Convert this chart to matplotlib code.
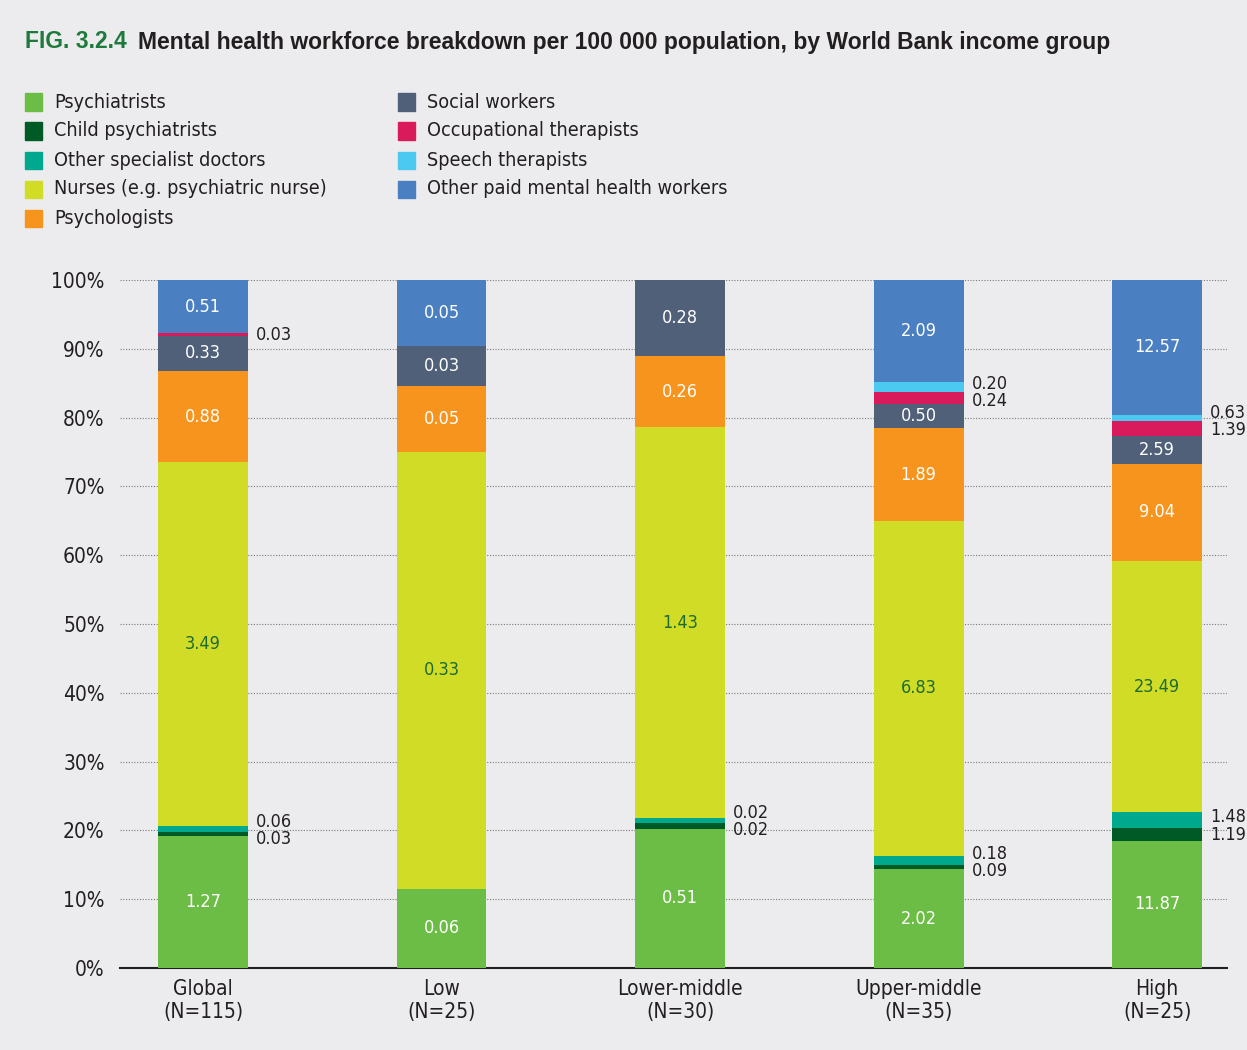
import matplotlib
matplotlib.use('Agg')
import matplotlib.pyplot as plt
from matplotlib.patches import Rectangle
from matplotlib.font_manager import FontProperties

plt.rcParams['font.family'] = ['DejaVu Sans']
plt.rcParams['font.stretch'] = 'condensed'

groups = ['Global\n(N=115)', 'Low\n(N=25)', 'Lower-middle\n(N=30)', 'Upper-middle\n(N=35)', 'High\n(N=25)']
series = ['Psychiatrists', 'Child psychiatrists', 'Other specialist doctors',
          'Nurses (e.g. psychiatric nurse)', 'Psychologists', 'Social workers',
          'Occupational therapists', 'Speech therapists', 'Other paid mental health workers']
psychiatrists = [1.27, 0.06, 0.51, 2.02, 11.87]
child_psych = [0.03, 0, 0.02, 0.09, 1.19]
other_spec = [0.06, 0, 0.02, 0.18, 1.48]
nurses = [3.49, 0.33, 1.43, 6.83, 23.49]
psychologists = [0.88, 0.05, 0.26, 1.89, 9.04]
social = [0.33, 0.03, 0.28, 0.50, 2.59]
occupational = [0.03, 0, 0, 0.24, 1.39]
speech = [0, 0, 0, 0.20, 0.63]
other_paid = [0.51, 0.05, 0, 2.09, 12.57]

values = [psychiatrists, child_psych, other_spec, nurses, psychologists,
          social, occupational, speech, other_paid]
colors = ['#6cbd45', '#005a26', '#00a88e', '#d0dc26', '#f7941d',
          '#4f6078', '#d91b5c', '#4cc9f0', '#4a7fc1']
inside = [True, False, False, True, True, True, False, False, True]
label_col = ['white', None, None, '#1e6b30', 'white', 'white', None, None, 'white']

bg = '#ececee'
dark = '#231f20'

fig = plt.figure(figsize=(12.47, 10.5), dpi=100, facecolor=bg)
ax = fig.add_axes([120/1247, 82/1050, 1107/1247, 688/1050], facecolor=bg)

W = 0.377
x = list(range(len(groups)))
totals = [sum(v[i] for v in values) for i in x]

for i in x:
    bottom = 0.0
    tops = []
    for k, v in enumerate(values):
        pct = v[i] / totals[i] * 100
        tops.append(bottom + pct)
        if v[i] > 0:
            ax.bar(i, pct, W, bottom=bottom, color=colors[k], zorder=3)
            if inside[k]:
                ax.text(i, bottom + pct / 2, '%.2f' % v[i], ha='center', va='center',
                        color=label_col[k], fontsize=13, zorder=4)
        bottom += pct
    # small segments get their labels to the right of the bar
    xl = i + W / 2 + 0.034
    off = 1.25
    if child_psych[i] > 0:
        b = tops[1]
        ax.text(xl, b + off + 0.3, '%.2f' % other_spec[i], ha='left', va='center', color=dark, fontsize=13)
        ax.text(xl, b - off + 0.3, '%.2f' % child_psych[i], ha='left', va='center', color=dark, fontsize=13)
    if occupational[i] > 0 and speech[i] > 0:
        b = tops[6]
        ax.text(xl, b + off, '%.2f' % speech[i], ha='left', va='center', color=dark, fontsize=13)
        ax.text(xl, b - off, '%.2f' % occupational[i], ha='left', va='center', color=dark, fontsize=13)
    elif occupational[i] > 0:
        ax.text(xl, (tops[5] + tops[6]) / 2, '%.2f' % occupational[i], ha='left', va='center', color=dark, fontsize=13)

ax.set_xlim(-0.348, 4.293)
ax.set_ylim(0, 100)
ax.set_yticks(range(0, 101, 10))
ax.set_yticklabels(['%d%%' % t for t in range(0, 101, 10)], fontsize=15, color=dark)
ax.set_xticks(x)
ax.set_xticklabels(groups, fontsize=15, color=dark, linespacing=1.15)
ax.tick_params(axis='both', length=0)
ax.tick_params(axis='y', pad=11)
ax.tick_params(axis='x', pad=8)
for s in ['top', 'left', 'right']:
    ax.spines[s].set_visible(False)
ax.spines['bottom'].set_color(dark)
ax.spines['bottom'].set_linewidth(1.5)
ax.grid(axis='y', color='#7a7a7a', linestyle=(0, (1, 1.5)), linewidth=0.8, zorder=0)
ax.set_axisbelow(True)

# title (normal width sans)
tfont = FontProperties(family='Liberation Sans', stretch='normal', weight='bold', size=16.5)
t1 = fig.text(25/1247, 1 - 42/1050, 'FIG. 3.2.4', color='#1e7a3c', fontproperties=tfont, va='center')
fig.canvas.draw()
ext = t1.get_window_extent()
fig.text((ext.x1 + 11) / 1247, 1 - 42/1050,
         'Mental health workforce breakdown per 100 000 population, by World Bank income group',
         color=dark, fontproperties=tfont, va='center')

# legend
for k, name in enumerate(series):
    col, row = (0, k) if k < 5 else (1, k - 5)
    sx = 25 if col == 0 else 398
    ty = 102 + row * 29
    fig.add_artist(Rectangle((sx/1247, 1 - (ty + 8.5)/1050), 17/1247, 17/1050,
                             transform=fig.transFigure, color=colors[k]))
    fig.text((sx + 29)/1247, 1 - ty/1050, name, fontsize=14.2, color=dark, va='center')

fig.savefig('out.png', dpi=100, facecolor=bg)
